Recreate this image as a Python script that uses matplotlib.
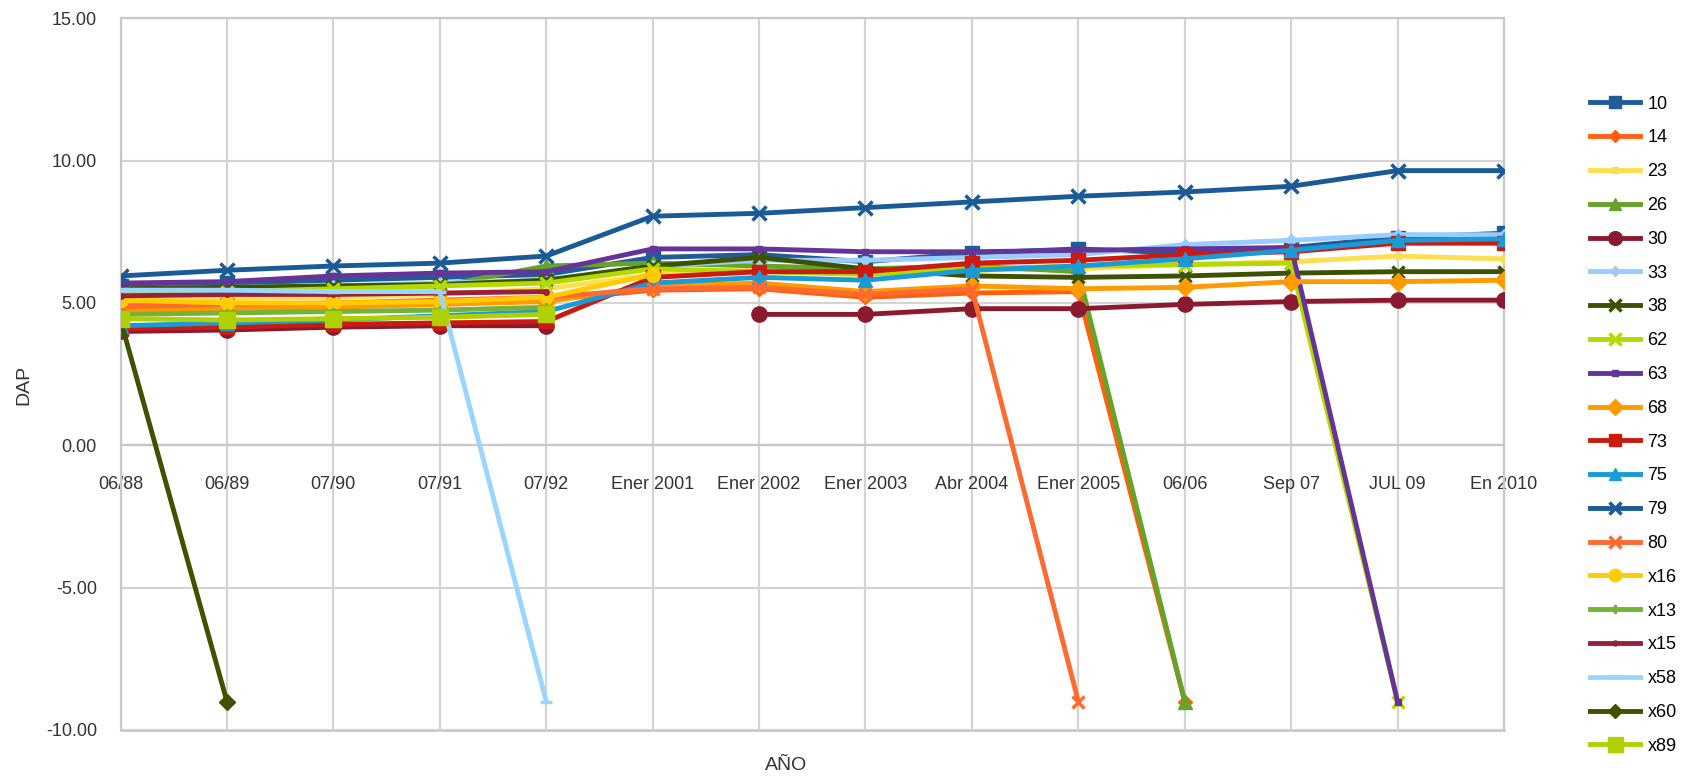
import numpy as np
import matplotlib
matplotlib.use("Agg")
import matplotlib.pyplot as plt

plt.rcParams['font.family'] = ['Liberation Sans', 'DejaVu Sans']

n = np.nan
years = ['06/88', '06/89', '07/90', '07/91', '07/92', 'Ener 2001', 'Ener 2002',
         'Ener 2003', 'Abr 2004', 'Ener 2005', '06/06', 'Sep 07', 'JUL 09', 'En 2010']

names = ['10', '14', '23', '26', '30', '33', '38', '62', '63', '68',
         '73', '75', '79', '80', 'x16', 'x13', 'x15', 'x58', 'x60', 'x89']

d10 = [5.6, 5.7, 5.8, 5.9, 6.0, 6.6, 6.7, 6.45, 6.75, 6.9, 6.75, 6.95, 7.3, 7.45]
d14 = [4.8, 4.85, 4.9, 5.0, 5.1, 5.45, 5.5, 5.2, 5.35, 5.4, -9, n, n, n]
d23 = [5.1, 5.15, 5.2, 5.3, 5.5, 6.0, 6.2, 6.1, 6.15, 6.2, 6.35, 6.45, 6.65, 6.55]
d26 = [5.3, 5.4, 5.5, 5.6, 6.3, 6.4, 6.3, 6.2, 6.3, 6.1, -9, n, n, n]
d30 = [4.0, 4.05, 4.15, 4.2, 4.2, n, 4.6, 4.6, 4.8, 4.8, 4.95, 5.05, 5.1, 5.1]
d33 = [5.5, 5.55, 5.6, 5.7, 5.8, 6.3, 6.5, 6.5, 6.6, 6.7, 7.05, 7.2, 7.4, 7.4]
d38 = [5.5, 5.55, 5.6, 5.65, 5.8, 6.3, 6.6, 6.2, 5.95, 5.9, 5.95, 6.05, 6.1, 6.1]
d62 = [5.3, 5.4, 5.5, 5.6, 5.7, 6.2, 6.1, 6.0, 6.2, 6.3, 6.35, 6.4, -9, n]
d63 = [5.7, 5.75, 5.95, 6.05, 6.1, 6.9, 6.9, 6.8, 6.8, 6.85, 6.9, 6.95, -9, n]
d68 = [4.7, 4.8, 4.85, 4.95, 5.05, 5.6, 5.7, 5.4, 5.6, 5.5, 5.55, 5.75, 5.75, 5.8]
d73 = [4.1, 4.15, 4.25, 4.3, 4.35, 5.9, 6.1, 6.1, 6.4, 6.5, 6.7, 6.8, 7.1, 7.1]
d75 = [4.2, 4.3, 4.4, 4.55, 4.7, 5.7, 5.9, 5.8, 6.15, 6.3, 6.55, 6.85, 7.2, 7.25]
d79 = [5.95, 6.15, 6.3, 6.4, 6.65, 8.05, 8.15, 8.35, 8.55, 8.75, 8.9, 9.1, 9.65, 9.65]
d80 = [4.9, 4.95, 5.0, 5.1, 5.2, 5.5, 5.55, 5.3, 5.5, -9, n, n, n, n]
dx16 = [5.1, 5.0, 5.0, 5.05, 5.2, 6.0, n, n, n, n, n, n, n, n]
dx13 = [4.6, 4.65, 4.7, 4.75, 4.85, n, n, n, n, n, n, n, n, n]
dx15 = [5.25, 5.3, 5.3, 5.35, 5.4, n, n, n, n, n, n, n, n, n]
dx58 = [5.45, 5.45, 5.4, 5.4, -9, n, n, n, n, n, n, n, n, n]
dx60 = [4.4, -9, n, n, n, n, n, n, n, n, n, n, n, n]
dx89 = [4.45, 4.4, 4.45, 4.5, 4.6, n, n, n, n, n, n, n, n, n]

series = [d10, d14, d23, d26, d30, d33, d38, d62, d63, d68,
          d73, d75, d79, d80, dx16, dx13, dx15, dx58, dx60, dx89]

colors = ['#1f5c99', '#ff6010', '#ffdf50', '#66a329', '#8c1a2e', '#99ccff',
          '#3d5200', '#b3d900', '#663399', '#ff9a00', '#cc1a10', '#1a9ad6',
          '#1a5a96', '#ff6a30', '#ffcc00', '#73b33a', '#99203a', '#99d6ff',
          '#3f5200', '#b0d000']
markers = ['s', 'D', 's', '^', 'o', 'D', 'x', 'x', 's', 'D',
           's', '^', 'x', 'x', 'o', 'P', 'o', '_', 'D', 's']
msizes = [10, 7, 5, 10, 11, 6, 9, 9, 5, 9, 10, 10, 10, 9, 10, 6, 4, 8, 8, 12]

fig = plt.figure(figsize=(16.88, 7.83), dpi=100)
ax = fig.add_axes([0.0714, 0.0677, 0.8196, 0.9089])

x = np.arange(len(years))
for vals, name, c, m, ms in zip(series, names, colors, markers, msizes):
    ax.plot(x, vals, color=c, lw=3.5, marker=m, ms=ms, mew=2.5 if m in 'x_' else 1,
            label=name, zorder=3)

ax.set_xlim(0, len(years) - 1)
ax.set_ylim(-10, 15)
ax.set_yticks([-10, -5, 0, 5, 10, 15])
ax.set_yticklabels(['%.2f' % v for v in [-10, -5, 0, 5, 10, 15]])
ax.set_xticks(x)
ax.set_xticklabels(years)
ax.grid(True, color='#d4d4d4', lw=1.6, zorder=0)
for s in ax.spines.values():
    s.set_color('#c8c8c8')
    s.set_linewidth(1.6)
ax.spines['bottom'].set_position(('data', 0))
ax.tick_params(axis='x', length=0, pad=22, labelsize=13, colors='#333333')
ax.tick_params(axis='y', length=0, pad=17, labelsize=13, colors='#333333')
ax.axhline(-10, color='#c8c8c8', lw=2, zorder=1, clip_on=False)

fig.text(0.4655, 0.012, 'AÑO', ha='center', va='bottom', fontsize=14, color='#333333')
fig.text(0.009, 0.508, 'DAP', rotation=90, ha='left', va='center', fontsize=14, color='#333333')

fig.legend(loc='upper left', bbox_to_anchor=(0.9375, 0.887), frameon=False,
           fontsize=13, handlelength=2.8, labelspacing=0.93, handletextpad=0.4,
           borderaxespad=0, markerscale=0.9)

fig.savefig('out.png', dpi=100)
